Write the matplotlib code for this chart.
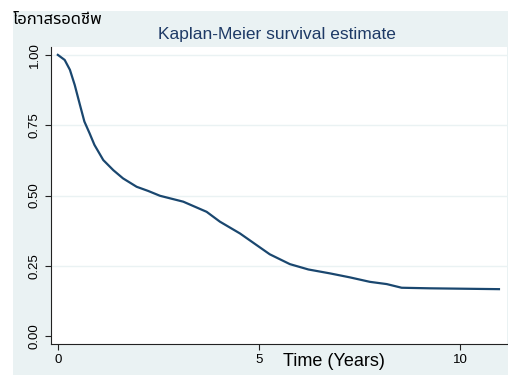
import matplotlib.pyplot as plt
from matplotlib.patches import Rectangle

# Kaplan-Meier curve
time_years = [0, 0.17, 0.30, 0.42, 0.55, 0.66, 0.79, 0.91, 1.13, 1.38, 1.62, 1.96, 2.25,
              2.54, 3.12, 3.70, 4.03, 4.53, 4.94, 5.27, 5.77, 6.23, 6.77, 7.26, 7.76,
              8.18, 8.55, 9.25, 10.97]
survival = [1.0, 0.982, 0.947, 0.893, 0.822, 0.763, 0.721, 0.68, 0.626, 0.59, 0.561, 0.531, 0.516,
            0.499, 0.478, 0.442, 0.407, 0.365, 0.324, 0.291, 0.256, 0.237, 0.223, 0.209, 0.193,
            0.185, 0.172, 0.170, 0.167]
y_ticks = [0, 0.25, 0.5, 0.75, 1.0]
y_labels = ["0.00", "0.25", "0.50", "0.75", "1.00"]
x_ticks = [0, 5, 10]

bg = "#eaf2f3"
navy = "#1a476f"

fig = plt.figure(figsize=(5.08, 3.75), dpi=100, facecolor="white")
fig.patches.append(Rectangle((13 / 508, 0), 1, 1 - 11 / 375, transform=fig.transFigure,
                             facecolor=bg, edgecolor="none", zorder=-10))

ax = fig.add_axes([51 / 508, 31 / 375, 456 / 508, 297 / 375])
ax.set_facecolor("white")
for yv in y_ticks[1:]:
    ax.axhline(yv, color=bg, lw=1, zorder=0)

ax.plot(time_years, survival, color=navy, lw=1.6)

ax.set_xlim(-0.17, 11.17)
ax.set_ylim(-0.028, 1.028)
ax.spines["top"].set_visible(False)
ax.spines["right"].set_visible(False)
ax.spines["left"].set_color("#222222")
ax.spines["bottom"].set_color("#222222")

ax.set_yticks(y_ticks)
ax.set_yticklabels(y_labels, rotation=90, va="center", family="Liberation Sans", fontsize=9.5)
ax.set_xticks(x_ticks)
ax.set_xticklabels([str(v) for v in x_ticks], family="Liberation Sans", fontsize=9.5)
ax.tick_params(direction="out", length=4, width=0.8, color="#222222")

# x title sits beside the tick labels, like the original
fig.text(334 / 508, 1 - 362 / 375, "Time (Years)", ha="center", va="center",
         family="Liberation Sans", fontsize=13, color="black")

fig.text(277 / 508, 1 - 35 / 375, "Kaplan-Meier survival estimate", ha="center", va="center",
         family="Liberation Sans", fontsize=12.5, color="#1e3a66")
fig.text(13 / 508, 1 - 20 / 375, "โอกาสรอดชีพ", ha="left", va="center", fontsize=12,
         family=["Noto Sans Thai", "Noto Sans Thai UI", "Loma", "Garuda", "Tlwg Typo",
                 "Noto Sans", "DejaVu Sans"])

fig.savefig("out.png", dpi=100, facecolor=fig.get_facecolor())
